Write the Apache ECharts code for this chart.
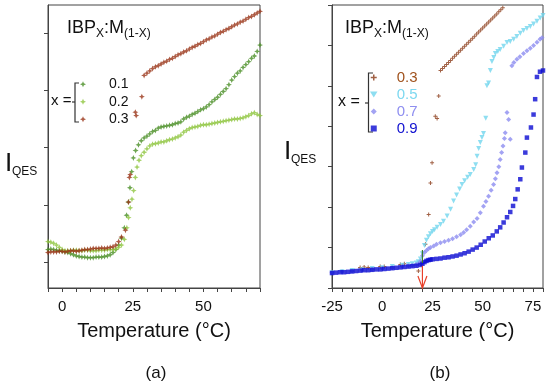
<!DOCTYPE html>
<html><head><meta charset="utf-8">
<script src="https://cdn.jsdelivr.net/npm/echarts@6/dist/echarts.min.js"></script>
<style>html,body{margin:0;padding:0;background:#fff}#c{width:550px;height:385px}</style>
</head><body><div id="c"></div>
<script>
// ---------- Panel (a) data: [Temperature °C, I_QES (a.u.)] ----------
const a01 = [[-5,1.22],[-4,1.23],[-3,1.22],[-2,1.21],[-1,1.20],[0,1.19],[1,1.18],[2,1.17],[3,1.15],[4,1.13],[5,1.11],[6,1.10],[7,1.09],[8,1.09],[9,1.08],[10,1.08],[11,1.08],[12,1.09],[13,1.09],[14,1.09],[15,1.10],[16,1.11],[17,1.13],[18,1.17],[19,1.22],[20,1.30],[21,1.42],[22,1.60],[22.8,1.82],[23.4,2.05],[24,2.30],[24.6,2.58],[25.2,2.82],[26,2.95],[27,3.05],[28,3.12],[29,3.17],[30,3.20],[31,3.24],[32,3.28],[33,3.30],[34,3.34],[35,3.36],[36,3.37],[37,3.38],[38,3.39],[39,3.40],[40,3.42],[41,3.43],[42,3.45],[43,3.50],[44,3.53],[45,3.55],[46,3.58],[47,3.60],[48,3.63],[49,3.66],[50,3.68],[51,3.71],[52,3.75],[53,3.80],[54,3.84],[55,3.88],[56,3.93],[57,3.98],[58,4.03],[59,4.10],[60,4.18],[61,4.24],[62,4.30],[63,4.34],[64,4.40],[65,4.45],[66,4.50],[67,4.56],[68,4.60],[69,4.68],[70,4.79]];
const a02 = [[-5,1.36],[-4,1.35],[-3,1.33],[-2,1.30],[-1,1.26],[0,1.22],[1,1.20],[2,1.20],[3,1.20],[4,1.21],[5,1.21],[6,1.20],[7,1.20],[8,1.21],[9,1.21],[10,1.20],[11,1.20],[12,1.20],[13,1.21],[14,1.21],[15,1.21],[16,1.22],[17,1.22],[18,1.22],[19,1.23],[20,1.26],[21,1.30],[22,1.40],[22.9,1.60],[23.5,1.78],[24.1,1.95],[24.7,2.10],[25.3,2.25],[25.9,2.48],[26.5,2.66],[27.2,2.78],[28,2.86],[29,2.92],[30,2.98],[31,3.03],[32,3.06],[33,3.07],[34,3.08],[35,3.10],[36,3.10],[37,3.12],[38,3.14],[39,3.15],[40,3.17],[41,3.19],[42,3.22],[43,3.27],[44,3.30],[45,3.33],[46,3.35],[47,3.36],[48,3.37],[49,3.39],[50,3.40],[51,3.40],[52,3.41],[53,3.42],[54,3.43],[55,3.44],[56,3.45],[57,3.46],[58,3.47],[59,3.48],[60,3.49],[61,3.50],[62,3.50],[63,3.51],[64,3.52],[65,3.54],[66,3.56],[67,3.59],[68,3.61],[69,3.58],[70,3.56]];
const a03 = [[-5,1.17],[-4,1.18],[-3,1.18],[-2,1.18],[-1,1.19],[0,1.19],[1,1.18],[2,1.19],[3,1.20],[4,1.20],[5,1.19],[6,1.20],[7,1.21],[8,1.22],[9,1.22],[10,1.23],[11,1.24],[12,1.24],[13,1.24],[14,1.25],[15,1.24],[16,1.25],[17,1.26],[18,1.27],[19,1.30],[20,1.36],[21,1.44],[22.4,1.56],[23.5,2.05],[23.8,2.48],[24.1,2.53],[25.9,3.62],[26.2,3.56],[28.2,3.89],[29,4.26],[30,4.30],[31,4.34],[32,4.38],[33,4.41],[34,4.43],[35,4.46],[36,4.49],[37,4.51],[38,4.54],[39,4.56],[40,4.59],[41,4.62],[42,4.64],[43,4.67],[44,4.69],[45,4.72],[46,4.75],[47,4.77],[48,4.80],[49,4.82],[50,4.85],[51,4.88],[52,4.90],[53,4.93],[54,4.95],[55,4.98],[56,5.01],[57,5.03],[58,5.06],[59,5.08],[60,5.11],[61,5.14],[62,5.16],[63,5.19],[64,5.21],[65,5.24],[66,5.27],[67,5.29],[68,5.32],[69,5.35],[70,5.38]];

// ---------- Panel (b) data ----------
const b03 = [[-11,0.51],[-9,0.52],[-7,0.51],[-1,0.53],[1,0.53],[9,0.58],[11,0.60],[18,0.42],[21.5,1.08],[23.1,1.82],[24,2.60],[24.8,3.10],[26.4,4.25],[27.3,4.19],[28.1,4.75],[29,5.38],[30,5.43],[31,5.48],[32,5.53],[33,5.58],[34,5.63],[35,5.68],[36,5.73],[37,5.78],[38,5.83],[39,5.88],[40,5.93],[41,5.98],[42,6.03],[43,6.08],[44,6.13],[45,6.18],[46,6.23],[47,6.28],[48,6.33],[49,6.38],[50,6.43],[51,6.48],[52,6.53],[53,6.58],[54,6.63],[55,6.68],[56,6.73],[57,6.78],[58,6.83],[59,6.88],[60,6.93]];
const b05 = [[-25,0.38],[-20,0.40],[-15,0.43],[-10,0.45],[-5,0.48],[0,0.50],[5,0.53],[10,0.56],[13,0.58],[15,0.60],[17,0.62],[18,0.65],[19,0.72],[20,0.85],[21,1.05],[22,1.18],[23,1.27],[24,1.34],[25,1.40],[26,1.44],[27.3,1.50],[29,1.57],[30.5,1.65],[32.3,1.78],[34,1.95],[35.5,2.15],[37,2.30],[38.5,2.45],[39.7,2.56],[41,2.65],[42.5,2.74],[43.8,2.81],[45.5,2.93],[46.5,3.05],[47.2,3.26],[48,3.45],[48.8,3.60],[49.6,3.72],[50.4,3.82],[51.5,4.20],[52.1,5.00],[52.9,5.07],[53.8,5.38],[54.6,5.60],[55.5,5.70],[56.3,5.80],[57.5,5.85],[58.7,5.90],[60.4,5.98],[62.1,6.07],[63.7,6.10],[65.4,6.15],[67,6.22],[68.7,6.30],[70.3,6.37],[72,6.42],[73.7,6.47],[75.3,6.53],[77,6.60],[78.6,6.68],[80,6.74]];
const b07 = [[-25,0.38],[-20,0.40],[-15,0.42],[-10,0.44],[-5,0.46],[0,0.48],[5,0.50],[10,0.53],[13,0.55],[15,0.56],[17,0.58],[18,0.60],[19,0.66],[20,0.80],[21,0.88],[22,0.93],[23,0.97],[24,1.00],[25.6,1.04],[27,1.08],[29,1.12],[31,1.15],[33,1.18],[35,1.22],[37,1.27],[39,1.32],[40.5,1.37],[42,1.44],[43.8,1.53],[45.5,1.63],[47.2,1.72],[48.8,1.86],[50.4,2.02],[51.6,2.14],[52.9,2.27],[54.2,2.42],[55.4,2.56],[56.3,2.70],[57.1,2.85],[58,3.00],[58.7,3.18],[59.4,3.35],[60.1,3.51],[60.8,3.70],[61.2,3.84],[62.1,4.34],[62.9,4.17],[63.7,3.68],[64.5,5.50],[65.5,5.58],[67,5.66],[68.5,5.72],[70.3,5.80],[72,5.87],[73.7,5.93],[75.3,6.00],[77,6.08],[78.5,6.15],[79.5,6.19]];
const b09 = [[-25,0.37],[-23,0.38],[-21,0.39],[-19,0.39],[-17,0.40],[-15,0.41],[-13,0.42],[-11,0.43],[-9,0.44],[-7,0.44],[-5,0.45],[-3,0.46],[-1,0.46],[1,0.47],[3,0.48],[5,0.49],[7,0.50],[9,0.51],[11,0.52],[13,0.53],[15,0.54],[17,0.55],[19,0.57],[20,0.60],[21,0.64],[22,0.67],[23,0.69],[24,0.70],[25,0.71],[27,0.72],[29,0.73],[31,0.75],[33,0.76],[35,0.78],[37,0.80],[39,0.83],[41,0.86],[43,0.90],[45,0.95],[47,1.00],[49,1.07],[51,1.15],[53,1.23],[55,1.30],[57,1.40],[58.7,1.50],[60.4,1.62],[62.1,1.75],[63.7,1.88],[65.1,2.03],[66.2,2.20],[67.4,2.44],[68.7,2.69],[69.5,2.98],[71.2,3.35],[72,3.72],[74,3.97],[75.3,4.29],[76.1,4.67],[77,5.22],[78.5,5.35],[80,5.38]];

// transition-marker arrow at 20 °C: [T, from, to]
const arrowSeg = [[20, 0.55, 0.0]];
const greenSeg = [[20, 0.94, 0.62]];

const xTicksA = [-5, 70, 5];   // min, max, interval
const xTicksB = [-25, 80, 5];
const yTicksA = [1, 2, 3, 4, 5];

const FONT = 'Liberation Sans, Arial, sans-serif';
const C = { a1:'#4a8e26', a2:'#8fc63e', a3:'#9a3418', b3:'#8a3a16', b5:'#72d6ee', b7:'#8c8cf0', b9:'#0a0ad2' };
const STAR = 'path://M4,0L5.2,2.8L8,4L5.2,5.2L4,8L2.8,5.2L0,4L2.8,2.8Z';
const PLUS = 'path://M3,0h2v3h3v2h-3v3h-2v-3h-3v-2h3z';
const DTRI = 'path://M0,0L10,0L5,8Z';
const DIAM = 'path://M4,0L8,4L4,8L0,4Z';
const SQR = 'path://M0,0h8v8h-8z';

const chart = echarts.init(document.getElementById('c'), null, {renderer:'canvas'});

function axisBase() {
  return {
    axisLine:{show:true, onZero:false, lineStyle:{color:'#444', width:1}},
    axisTick:{show:true, inside:false, length:4, lineStyle:{color:'#444'}},
    splitLine:{show:false}
  };
}
const lab25 = v => (v % 25 === 0 ? String(v) : '');

function segRender(color, head) {
  return function (params, api) {
    const p1 = api.coord([api.value(0), api.value(1)]);
    const p2 = api.coord([api.value(0), api.value(2)]);
    const children = [{type:'line', shape:{x1:p1[0], y1:p1[1], x2:p2[0], y2:p2[1]}, style:{stroke:color, lineWidth:1.2}}];
    if (head) children.push({type:'polyline', shape:{points:[[p2[0]-4.5,p2[1]-12],[p2[0],p2[1]],[p2[0]+4.5,p2[1]-12]]}, style:{stroke:color, lineWidth:1.2, fill:null}});
    return {type:'group', children};
  };
}

const xA = Object.assign(axisBase(), {gridIndex:0, type:'value', min:xTicksA[0], max:xTicksA[1], interval:xTicksA[2],
  axisLabel:{fontSize:15, color:'#111', margin:11, formatter:lab25, showMinLabel:true, showMaxLabel:true},
  name:'Temperature (°C)', nameLocation:'middle', nameGap:33, nameTextStyle:{fontSize:20, color:'#111'}});
const xB = Object.assign(axisBase(), {gridIndex:1, type:'value', min:xTicksB[0], max:xTicksB[1], interval:xTicksB[2],
  axisLabel:{fontSize:15, color:'#111', margin:11, formatter:lab25, showMinLabel:true, showMaxLabel:true},
  name:'Temperature (°C)', nameLocation:'middle', nameGap:33, nameTextStyle:{fontSize:20, color:'#111'}});
const yA = Object.assign(axisBase(), {gridIndex:0, type:'value', min:0.55, max:5.49, axisLabel:{show:false}});
yA.axisTick = {show:true, inside:false, length:4, lineStyle:{color:'#444'}, customValues:yTicksA};
const yB = Object.assign(axisBase(), {gridIndex:1, type:'value', min:0, max:7, interval:1, axisLabel:{show:false}});

const option = {
  backgroundColor:'#fff',
  animation:false,
  textStyle:{fontFamily:FONT},
  grid:[
    {left:48, top:5, width:212, height:283, show:true, borderColor:'#444', borderWidth:1},
    {left:332, top:5, width:211, height:283, show:true, borderColor:'#444', borderWidth:1}
  ],
  xAxis:[xA, xB],
  yAxis:[yA, yB],
  legend:[
    {orient:'vertical', align:'left', left:80, top:75.5, padding:0, itemGap:0, itemWidth:10, itemHeight:6, selectedMode:false,
     data:['a0.1','a0.2','a0.3'], formatter:n=>n.slice(1),
     textStyle:{fontSize:14, color:'#111', lineHeight:17.5, fontFamily:FONT, padding:[0,0,0,16]}},
    {orient:'vertical', align:'left', left:370, top:69, padding:0, itemGap:0, itemWidth:10, itemHeight:6, selectedMode:false,
     data:[{name:'b0.3', textStyle:{color:'#a0521d'}},{name:'b0.5', textStyle:{color:'#7dd8f0'}},{name:'b0.7', textStyle:{color:'#8f8ff0'}},{name:'b0.9', textStyle:{color:'#1010d0'}}],
     formatter:n=>n.slice(1),
     textStyle:{fontSize:15, lineHeight:17, fontFamily:FONT, padding:[0,0,0,13]}}
  ],
  series:[
    {name:'a0.1', type:'scatter', xAxisIndex:0, yAxisIndex:0, data:a01, symbol:STAR, symbolSize:6, itemStyle:{color:C.a1}},
    {name:'a0.2', type:'scatter', xAxisIndex:0, yAxisIndex:0, data:a02, symbol:STAR, symbolSize:6, itemStyle:{color:C.a2}},
    {name:'a0.3', type:'scatter', xAxisIndex:0, yAxisIndex:0, data:a03, symbol:STAR, symbolSize:6, itemStyle:{color:C.a3}},
    {name:'b0.3', type:'scatter', xAxisIndex:1, yAxisIndex:1, data:b03, symbol:PLUS, symbolSize:4, itemStyle:{color:C.b3}},
    {name:'b0.5', type:'scatter', xAxisIndex:1, yAxisIndex:1, data:b05, symbol:DTRI, symbolSize:5, itemStyle:{color:C.b5}},
    {name:'b0.7', type:'scatter', xAxisIndex:1, yAxisIndex:1, data:b07, symbol:DIAM, symbolSize:5, itemStyle:{color:C.b7}},
    {name:'b0.9', type:'scatter', xAxisIndex:1, yAxisIndex:1, data:b09, symbol:SQR, symbolSize:4.5, itemStyle:{color:C.b9}},
    {name:'green', type:'custom', xAxisIndex:1, yAxisIndex:1, data:greenSeg, renderItem:segRender('#3a7a2a', false), z:5},
    {name:'arrow', type:'custom', xAxisIndex:1, yAxisIndex:1, data:arrowSeg, renderItem:segRender('#e8402a', true), z:5}
  ],
  graphic:[
    // panel titles
    {type:'text', left:67, top:19, style:{text:'IBP', font:'18px '+FONT, fill:'#111'}},
    {type:'text', left:96, top:28, style:{text:'X', font:'12px '+FONT, fill:'#111'}},
    {type:'text', left:104, top:19, style:{text:':M', font:'18px '+FONT, fill:'#111'}},
    {type:'text', left:124, top:28, style:{text:'(1-X)', font:'12px '+FONT, fill:'#111'}},
    {type:'text', left:345, top:19, style:{text:'IBP', font:'18px '+FONT, fill:'#111'}},
    {type:'text', left:374, top:28, style:{text:'X', font:'12px '+FONT, fill:'#111'}},
    {type:'text', left:382, top:19, style:{text:':M', font:'18px '+FONT, fill:'#111'}},
    {type:'text', left:402, top:28, style:{text:'(1-X)', font:'12px '+FONT, fill:'#111'}},
    // legend "x =" and brackets
    {type:'text', left:51, top:93, style:{text:'x =', font:'15px '+FONT, fill:'#111'}},
    {type:'polyline', shape:{points:[[79,83],[75,83],[75,122],[79,122]]}, style:{stroke:'#333', lineWidth:1.2, fill:null}},
    {type:'line', shape:{x1:72, y1:102, x2:75, y2:102}, style:{stroke:'#333', lineWidth:1.2}},
    {type:'text', left:338, top:94, style:{text:'x =', font:'16px '+FONT, fill:'#111'}},
    {type:'polyline', shape:{points:[[373,73],[368.5,73],[368.5,132],[373,132]]}, style:{stroke:'#333', lineWidth:1.2, fill:null}},
    {type:'line', shape:{x1:365, y1:103, x2:368.5, y2:103}, style:{stroke:'#333', lineWidth:1.2}},
    // y-axis titles I_QES
    {type:'text', left:5, top:151, style:{text:'I', font:'26px '+FONT, fill:'#111'}},
    {type:'text', left:12, top:166, style:{text:'QES', font:'12px '+FONT, fill:'#111'}},
    {type:'text', left:284, top:139, style:{text:'I', font:'26px '+FONT, fill:'#111'}},
    {type:'text', left:291, top:154, style:{text:'QES', font:'12px '+FONT, fill:'#111'}},
    // panel letters
    {type:'text', x:156, y:373, style:{text:'(a)', font:'17px '+FONT, fill:'#111', align:'center', verticalAlign:'middle'}},
    {type:'text', x:440, y:373, style:{text:'(b)', font:'17px '+FONT, fill:'#111', align:'center', verticalAlign:'middle'}}
  ]
};
chart.setOption(option);
</script>
</body></html>
